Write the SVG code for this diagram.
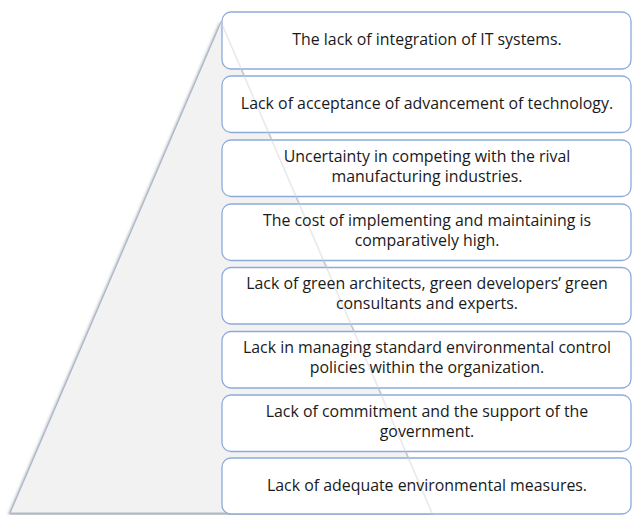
<svg xmlns="http://www.w3.org/2000/svg" width="632" height="515" viewBox="0 0 632 515">
  <defs>
    <filter id="soft" x="-10%" y="-10%" width="120%" height="120%">
      <feDropShadow dx="-1" dy="1.5" stdDeviation="1.5" flood-color="#7f7f7f" flood-opacity="0.7"/>
    </filter>
    <style>
      .tri { fill: #f2f2f2; stroke: #a9b9d0; stroke-width: 1.2; }
      .box { fill: #ffffff; stroke: #8eaadb; stroke-width: 1.3; }
      .lbl { font-family: "Open Sans", "Liberation Sans", Arial, sans-serif; font-size: 15.9px; fill: #1a1a1a; text-anchor: middle; }
      .ridge { stroke: #d4d4d4; stroke-width: 1.6; opacity: 0.5; fill: none; }
    </style>
  </defs>

  <rect width="632" height="515" fill="#ffffff"/>

  <!-- pyramid backdrop -->
  <g id="pyramid">
    <polygon class="tri" points="221,22 10,513 432,513" filter="url(#soft)"/>
  </g>

  <!-- tiers, top to bottom -->
  <g id="tier1"><rect class="box" x="222" y="12" width="409" height="57" rx="9"/></g>
  <g id="tier2"><rect class="box" x="222" y="76" width="409" height="56.5" rx="9"/></g>
  <g id="tier3"><rect class="box" x="222" y="140" width="409" height="56.5" rx="9"/></g>
  <g id="tier4"><rect class="box" x="222" y="204" width="409" height="56.5" rx="9"/></g>
  <g id="tier5"><rect class="box" x="222" y="267.5" width="409" height="56.5" rx="9"/></g>
  <g id="tier6"><rect class="box" x="222" y="331.5" width="409" height="56.5" rx="9"/></g>
  <g id="tier7"><rect class="box" x="222" y="395" width="409" height="56.5" rx="9"/></g>
  <g id="tier8"><rect class="box" x="222" y="458" width="409" height="56" rx="9"/></g>

  <!-- faint right edge of the pyramid showing through the tiers -->
  <g id="connectors">
    <line class="ridge" x1="221" y1="22" x2="432" y2="513"/>
  </g>

  <g id="labels">
    <text class="lbl" x="427" y="45">The lack of integration of IT systems.</text>
    <text class="lbl" x="427" y="109">Lack of acceptance of advancement of technology.</text>
    <text class="lbl" x="427" y="162">Uncertainty in competing with the rival</text>
    <text class="lbl" x="427" y="182">manufacturing industries.</text>
    <text class="lbl" x="427" y="226">The cost of implementing and maintaining is</text>
    <text class="lbl" x="427" y="246">comparatively high.</text>
    <text class="lbl" x="427" y="289">Lack of green architects, green developers’ green</text>
    <text class="lbl" x="427" y="309">consultants and experts.</text>
    <text class="lbl" x="427" y="353">Lack in managing standard environmental control</text>
    <text class="lbl" x="427" y="373">policies within the organization.</text>
    <text class="lbl" x="427" y="417">Lack of commitment and the support of the</text>
    <text class="lbl" x="427" y="437">government.</text>
    <text class="lbl" x="427" y="491">Lack of adequate environmental measures.</text>
  </g>
</svg>
